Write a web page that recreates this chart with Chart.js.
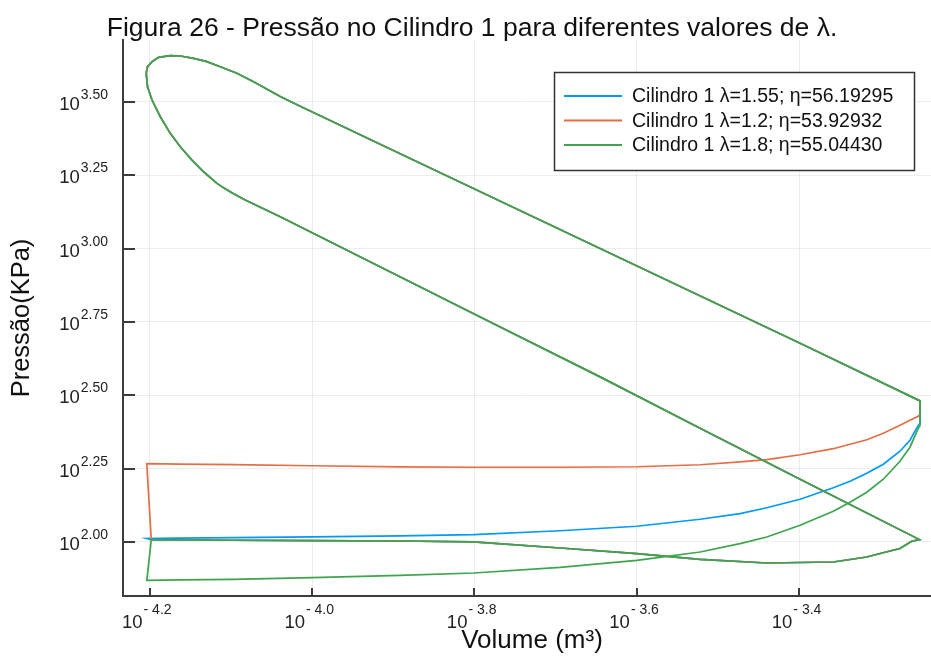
<!DOCTYPE html>
<html lang="pt">
<head>
<meta charset="utf-8">
<title>Figura 26 - Pressão no Cilindro 1</title>
<script src="https://cdn.jsdelivr.net/npm/chart.js@4.4.1/dist/chart.umd.min.js"></script>
<style>
  html, body { margin: 0; padding: 0; background: #fff; }
  #wrap { position: relative; width: 931px; height: 656px; }
</style>
</head>
<body>
<div id="wrap"><canvas id="pvChart"></canvas></div>
<script>
/* ==========================================================================
   DATA (both axes are log10, so values are exponents)
   ========================================================================== */
const seriesLabels = [
    'Cilindro 1 λ=1.55; η=56.19295',
    'Cilindro 1 λ=1.2; η=53.92932',
    'Cilindro 1 λ=1.8; η=55.04430'
];

// exhaust stroke, BDC -> TDC (shared volume stations, one pressure list per λ)
const exhaustLogV   = [-3.2514, -3.2535, -3.2638, -3.2761, -3.2966, -3.3170, -3.3376, -3.3582, -3.3991, -3.4401,
                       -3.4730, -3.5222, -3.6001, -3.6945, -3.8012, -3.8914, -4.0001, -4.0970, -4.1622, -4.2034];
const exhaustLogP155 = [2.4047, 2.3979, 2.3467, 2.3092, 2.2649, 2.2342, 2.2070, 2.1848, 2.1456, 2.1166,
                        2.0968, 2.0774, 2.0535, 2.0382, 2.0252, 2.0211, 2.0177, 2.0150, 2.0133, 2.0116];
const exhaustLogP120 = [2.4354, 2.4286, 2.4149, 2.3979, 2.3706, 2.3484, 2.3331, 2.3178, 2.2973, 2.2803,
                        2.2728, 2.2632, 2.2564, 2.2547, 2.2547, 2.2557, 2.2598, 2.2639, 2.2656, 2.2673];
const exhaustLogP180 = [2.3962, 2.3877, 2.3229, 2.2751, 2.2138, 2.1695, 2.1354, 2.1047, 2.0569, 2.0170,
                        1.9945, 1.9659, 1.9376, 1.9137, 1.8943, 1.8865, 1.8786, 1.8728, 1.8708, 1.8694];

// intake stroke, TDC -> BDC (same for all λ)
const intakeLogV = [-4.1979, -4.0970, -4.0001, -3.8914, -3.8012, -3.6945, -3.6001, -3.5222,
                    -3.4401, -3.3582, -3.3170, -3.2945, -3.2761, -3.2617, -3.2521];
const intakeLogP = [2.0075, 2.0058, 2.0048, 2.0034, 2.0000, 1.9795, 1.9605, 1.9410,
                    1.9284, 1.9318, 1.9489, 1.9649, 1.9775, 2.0024, 2.0082];

// compression + combustion, BDC -> TDC
const compressionLogV = [-3.3991, -3.5222, -3.6453, -3.7868, -4.0391, -4.0822, -4.0982, -4.1093, -4.1170,
                         -4.1335, -4.1478, -4.1622, -4.1745, -4.1868, -4.1970, -4.2025, -4.2041];
const compressionLogP = [2.2141, 2.3877, 2.5626, 2.7583, 3.1081, 3.1650, 3.1889, 3.2076, 3.2220,
                         3.2615, 3.3014, 3.3467, 3.3924, 3.4490, 3.5060, 3.5513, 3.5970];

// peak + expansion, TDC -> BDC
const expansionLogV = [-4.2025, -4.1970, -4.1889, -4.1745, -4.1622, -4.1458, -4.1294, -4.1130,
                       -4.0924, -4.0720, -4.0613, -4.0514, -4.0391, -4.0145, -3.8914, -3.6453, -3.3991, -3.2514];
const expansionLogP = [3.6195, 3.6366, 3.6515, 3.6570, 3.6560, 3.6481, 3.6366, 3.6195,
                       3.5970, 3.5684, 3.5520, 3.5367, 3.5179, 3.4851, 3.3232, 3.0003, 2.6775, 2.4807];

const xTickExps   = [-4.2, -4.0, -3.8, -3.6, -3.4];
const xTickLabels = ['- 4.2', '- 4.0', '- 3.8', '- 3.6', '- 3.4'];
const yTickExps   = [2.0, 2.25, 2.5, 2.75, 3.0, 3.25, 3.5];
const yTickLabels = ['2.00', '2.25', '2.50', '2.75', '3.00', '3.25', '3.50'];

const xRangeExp = [-4.2327, -3.2379];
const yRangeExp = [1.8159, 3.7105];

/* ==========================================================================
   HELPERS
   ========================================================================== */
const FONT = '"Liberation Sans", Arial, sans-serif';
const AXIS_COLOR = '#3c3c3c';

const toPoints = (lv, lp) => lv.map((v, i) => ({ x: Math.pow(10, v), y: Math.pow(10, lp[i]) }));

// one closed loop: exhaust -> intake -> compression -> expansion -> blowdown
function loopPoints(exhLogP) {
    const exhaust = toPoints(exhaustLogV, exhLogP);
    return [
        ...exhaust,
        ...toPoints(intakeLogV, intakeLogP),
        ...toPoints(compressionLogV, compressionLogP),
        ...toPoints(expansionLogV, expansionLogP),
        exhaust[0]
    ];
}

const decorPlugin = {
    id: 'decor',
    afterDraw(chart) {
        const { ctx, chartArea: a, scales } = chart;
        const xs = scales.x, ys = scales.y;
        ctx.save();

        // inward tick marks
        ctx.strokeStyle = AXIS_COLOR;
        ctx.lineWidth = 2;
        yTickExps.forEach(e => {
            const py = Math.round(ys.getPixelForValue(Math.pow(10, e)));
            ctx.beginPath(); ctx.moveTo(a.left, py); ctx.lineTo(a.left + 12, py); ctx.stroke();
        });
        xTickExps.forEach(e => {
            const px = Math.round(xs.getPixelForValue(Math.pow(10, e)));
            ctx.beginPath(); ctx.moveTo(px, a.bottom); ctx.lineTo(px, a.bottom - 8); ctx.stroke();
        });

        // tick labels "10" with superscript exponent
        ctx.fillStyle = '#222';
        ctx.textBaseline = 'alphabetic';
        yTickExps.forEach((e, i) => {
            const py = ys.getPixelForValue(Math.pow(10, e));
            ctx.font = '14px ' + FONT;
            ctx.textAlign = 'right';
            ctx.fillText(yTickLabels[i], a.left - 15, py - 3);
            const supW = ctx.measureText(yTickLabels[i]).width;
            ctx.font = '18.5px ' + FONT;
            ctx.fillText('10', a.left - 16 - supW, py + 8);
        });
        xTickExps.forEach((e, i) => {
            const px = xs.getPixelForValue(Math.pow(10, e));
            ctx.font = '18.5px ' + FONT;
            ctx.textAlign = 'right';
            ctx.fillText('10', px - 7, a.bottom + 32);
            ctx.font = '14px ' + FONT;
            ctx.textAlign = 'left';
            ctx.fillText(xTickLabels[i], px - 6, a.bottom + 18);
        });

        // title and axis titles
        ctx.textAlign = 'center';
        ctx.font = '26.5px ' + FONT;
        ctx.fillStyle = '#111';
        ctx.fillText('Figura 26 - Pressão no Cilindro 1 para diferentes valores de λ.', 472, 36);

        ctx.font = '26px ' + FONT;
        ctx.textBaseline = 'middle';
        ctx.fillText('Volume (m³)', 532, 641);

        ctx.save();
        ctx.translate(22, (a.top + a.bottom) / 2);
        ctx.rotate(-Math.PI / 2);
        ctx.font = '25.5px ' + FONT;
        ctx.fillText('Pressão(KPa)', 0, 0);
        ctx.restore();

        // legend box
        const lx = 554.5, ly = 72.5, lw = 360, lh = 98;
        ctx.fillStyle = '#fff';
        ctx.fillRect(lx, ly, lw, lh);
        ctx.strokeStyle = '#333';
        ctx.lineWidth = 1.5;
        ctx.strokeRect(lx, ly, lw, lh);
        ctx.font = '19.5px ' + FONT;
        ctx.textAlign = 'left';
        ctx.textBaseline = 'middle';
        chart.data.datasets.forEach((ds, i) => {
            const ry = ly + 23.5 + i * 24.5;
            ctx.strokeStyle = ds.borderColor;
            ctx.lineWidth = 2;
            ctx.beginPath(); ctx.moveTo(564, ry); ctx.lineTo(622, ry); ctx.stroke();
            ctx.fillStyle = '#111';
            ctx.fillText(ds.label, 632, ry + 1);
        });

        ctx.restore();
    }
};

/* ==========================================================================
   CHART
   ========================================================================== */
const seriesColors = ['#009AFA', '#E36F47', '#3EA44E'];
const seriesExhaust = [exhaustLogP155, exhaustLogP120, exhaustLogP180];

new Chart(document.getElementById('pvChart'), {
    type: 'scatter',
    data: {
        datasets: seriesLabels.map((label, i) => ({
            label: label,
            data: loopPoints(seriesExhaust[i]),
            showLine: true,
            borderColor: seriesColors[i],
            backgroundColor: seriesColors[i],
            borderWidth: 1.7,
            pointRadius: 0,
            tension: 0,
            order: 3 - i            // green drawn last, on top
        }))
    },
    options: {
        responsive: true,
        maintainAspectRatio: false,
        animation: false,
        layout: { padding: { top: 40, left: 0, right: 0, bottom: 0 } },
        plugins: {
            legend: { display: false },
            tooltip: { enabled: false },
            title: { display: false }
        },
        scales: {
            x: {
                type: 'logarithmic',
                position: 'bottom',
                bounds: 'data',
                min: Math.pow(10, xRangeExp[0]),
                max: Math.pow(10, xRangeExp[1]),
                afterBuildTicks: s => { s.ticks = xTickExps.map(e => ({ value: Math.pow(10, e) })); },
                afterFit: s => { s.height = 60; },
                ticks: { display: false },
                grid: { color: 'rgba(0,0,0,0.07)', lineWidth: 1, drawTicks: false },
                border: { display: true, color: AXIS_COLOR, width: 2 }
            },
            y: {
                type: 'logarithmic',
                position: 'left',
                bounds: 'data',
                min: Math.pow(10, yRangeExp[0]),
                max: Math.pow(10, yRangeExp[1]),
                afterBuildTicks: s => { s.ticks = yTickExps.map(e => ({ value: Math.pow(10, e) })); },
                afterFit: s => { s.width = 123; },
                ticks: { display: false },
                grid: { color: 'rgba(0,0,0,0.07)', lineWidth: 1, drawTicks: false },
                border: { display: true, color: AXIS_COLOR, width: 2 }
            }
        }
    },
    plugins: [decorPlugin]
});
</script>
</body>
</html>
